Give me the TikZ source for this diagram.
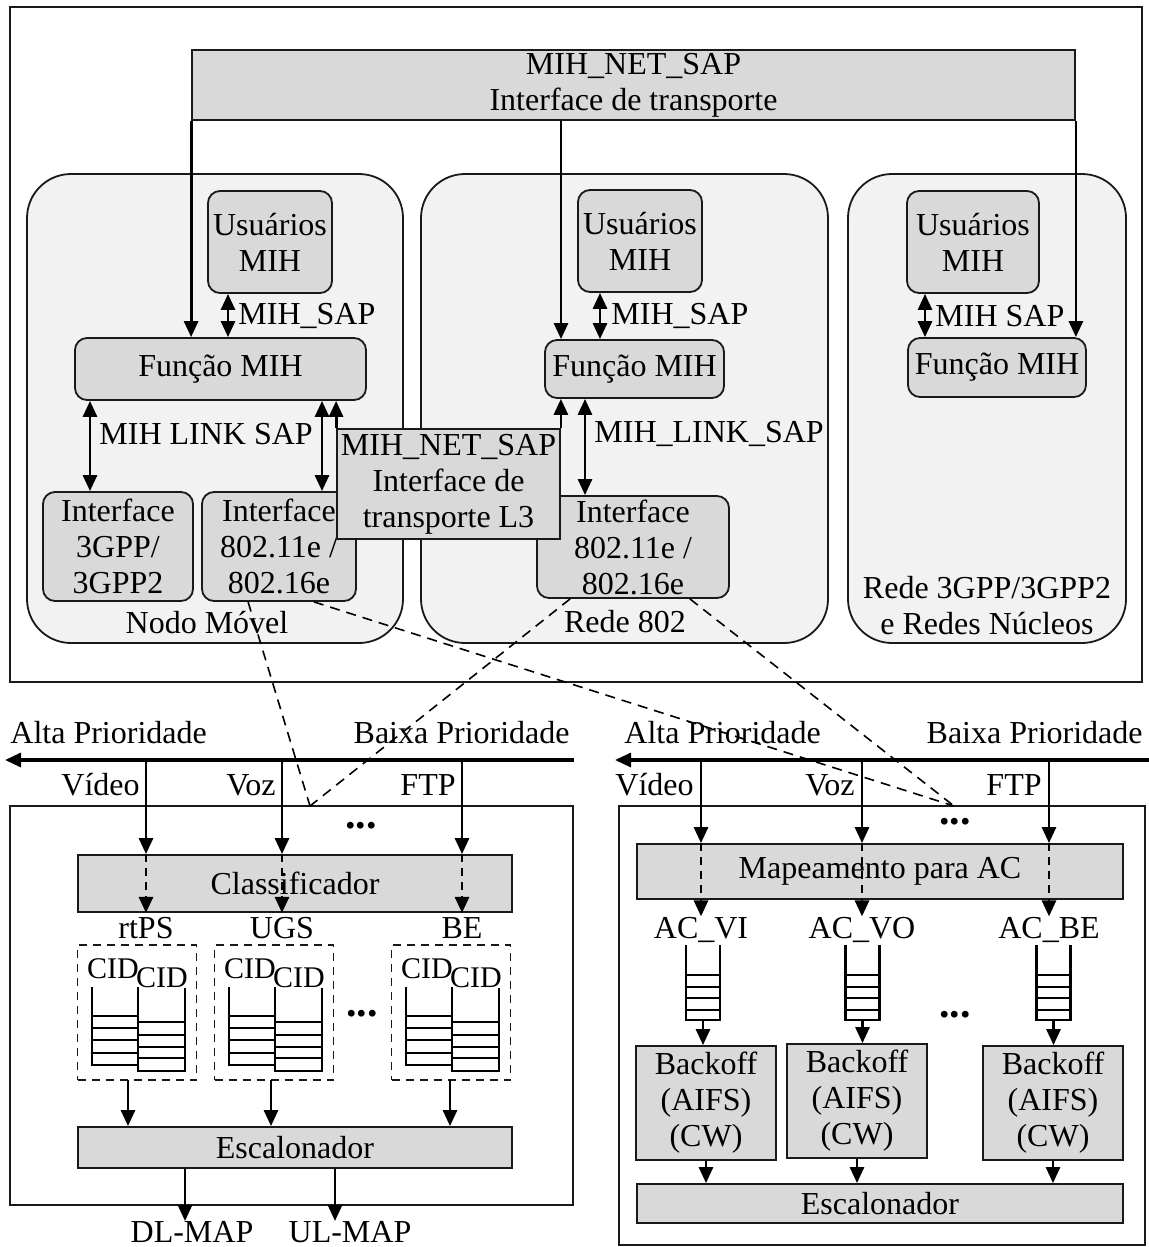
\documentclass[tikz,border=0pt]{standalone}
\usepackage{fontspec}
\setmainfont{Liberation Serif}
\usetikzlibrary{arrows.meta}
\def\boxedge{0.9pt}
\def\arrowedge{1.4pt}
\definecolor{edgeblack}{rgb}{0.1,0.1,0.1}
\definecolor{boxgray}{rgb}{0.85,0.85,0.85}
\definecolor{zonegray}{rgb}{0.95,0.95,0.95}
\tikzset{
  zone/.style={draw=edgeblack, fill=zonegray, line width=\boxedge, rounded corners=22pt, inner sep=0pt},
  rbox/.style={draw=edgeblack, fill=boxgray, line width=\boxedge, rounded corners=6pt, align=center, inner sep=0pt},
  sbox/.style={draw=edgeblack, fill=boxgray, line width=\boxedge, align=center, inner sep=0pt},
  panel/.style={draw=edgeblack, line width=\boxedge, inner sep=0pt},
  flow/.style={line width=\arrowedge, ->},
  dflow/.style={line width=\arrowedge, <->},
  dashlink/.style={line width=0.8pt, dash pattern=on 5pt off 3.5pt},
  lbl/.style={inner sep=0pt},
  dots/.style={inner sep=0pt, font=\fontsize{21}{21}\selectfont\bfseries},
}

\begin{document}
\begin{tikzpicture}[x=0.5pt, y=-0.5pt, >={Triangle[length=8pt,width=7pt]},
    every node/.style={font=\fontsize{16}{18}\selectfont}]
\useasboundingbox (0,0) rectangle (1149,1247);

        \draw [line width=1.1pt, color=edgeblack] (10,7) rectangle (1142,682);

        \node [zone, minimum width=188pt, minimum height=234.5pt] (nodo) at (215,408.5) {};
        \node [zone, minimum width=203.5pt, minimum height=234.5pt] (rede) at (624.5,408.5) {};
        \node [zone, minimum width=139pt, minimum height=234.5pt] (core) at (987,408.5) {};
        \node [lbl, anchor=base] (nodolbl) at (207,633) {Nodo Móvel};
        \node [lbl, anchor=base] (redelbl) at (625,632) {Rede 802};
        \node [lbl, align=center] (corelbl) at (987,606) {Rede 3GPP/3GPP2\\e Redes Núcleos};

        \node [sbox, minimum width=441.5pt, minimum height=35pt] (net) at (633.5,85) {MIH\_NET\_SAP\\Interface de transporte};

        % nodo movel
        \node [rbox, minimum width=62pt, minimum height=51pt] (usrA) at (270,242) {Usuários\\MIH};
        \node [rbox, minimum width=145.5pt, minimum height=31pt] (funA) at (220.5,369) {Função MIH};
        \node [rbox, minimum width=75pt, minimum height=54.5pt] (gppA) at (118,546.5) {Interface\\3GPP/\\3GPP2};
        \node [rbox, minimum width=77pt, minimum height=54.5pt] (wifA) at (279,546.5) {Interface\\802.11e /\\802.16e};

        % rede 802
        \node [rbox, minimum width=62pt, minimum height=51pt] (usrB) at (640,241) {Usuários\\MIH};
        \node [rbox, minimum width=89.5pt, minimum height=29pt] (funB) at (634.5,369) {Função MIH};
        \node [rbox, minimum width=96pt, minimum height=51pt] (wifB) at (633,547) {Interface\\802.11e /\\802.16e};

        % rede 3gpp
        \node [rbox, minimum width=66pt, minimum height=51pt] (usrC) at (973,242) {Usuários\\MIH};
        \node [rbox, minimum width=89pt, minimum height=29.5pt] (funC) at (997,367.5) {Função MIH};

        \node [sbox, minimum width=111.5pt, minimum height=55pt] (ltr) at (448.5,484) {MIH\_NET\_SAP\\Interface de\\transporte L3};

        \coordinate (netmid) at (561,120);
        \draw [flow] (net.south west) -- (net.south west |- funA.north);
        \draw [flow] (netmid) -- (netmid |- funB.north);
        \draw [flow] (net.south east) -- (net.south east |- funC.north);

        \coordinate (sapA) at (228,0);
        \coordinate (lkA1) at (90,0);
        \coordinate (lkA2) at (322,0);
        \draw [dflow] (usrA.south -| sapA) -- (funA.north -| sapA);
        \node [lbl, anchor=west] (sapAl) at (238,316) {MIH\_SAP};
        \draw [dflow] (funA.south -| lkA1) -- (gppA.north -| lkA1);
        \draw [dflow] (funA.south -| lkA2) -- (wifA.north -| lkA2);
        \node [lbl, anchor=west] (lkAl) at (99,434) {MIH LINK SAP};
        \draw [flow] (ltr.north west) -- (ltr.north west |- funA.south);
        \draw [flow] (ltr.north east) -- (ltr.north east |- funB.south);

        \coordinate (sapB) at (600,0);
        \coordinate (lkB) at (585,0);
        \draw [dflow] (usrB.south -| sapB) -- (funB.north -| sapB);
        \node [lbl, anchor=west] (sapBl) at (611,316) {MIH\_SAP};
        \draw [dflow] (funB.south -| lkB) -- (wifB.north -| lkB);
        \node [lbl, anchor=west] (lkBl) at (594,434) {MIH\_LINK\_SAP};

        \coordinate (sapC) at (925,0);
        \draw [dflow] (usrC.south -| sapC) -- (funC.north -| sapC);
        \node [lbl, anchor=west] (sapCl) at (935,316) {MIH SAP};

        % 802.16 side
        \node [panel, minimum width=281.5pt, minimum height=199.5pt] (wimax) at (291.5,1005.5) {};
        \coordinate (hiL) at (5,760);
        \coordinate (loL) at (574,760);
        \draw [flow, line width=1.6pt] (loL) -- (hiL);
        \node [lbl, anchor=base west] (hiLl) at (10,743) {Alta Prioridade};
        \node [lbl, anchor=base east] (loLl) at (570,743) {Baixa Prioridade};

        \node [sbox, minimum width=217pt, minimum height=28.5pt] (cls) at (295,883.5) {Classificador};
        \node [sbox, minimum width=217pt, minimum height=20.5pt] (escL) at (295,1147.5) {Escalonador};
        \node [dots] (dotsL1) at (361,826) {...};
        \node [dots] (dotsL2) at (362,1014) {...};

        \foreach \x/\app/\svc/\nm in {146/Vídeo/rtPS/vid, 282/Voz/UGS/voz, 462/FTP/BE/ftp} {
            \coordinate (\nm-in) at (\x,760);
            \draw [flow] (\nm-in) -- (\nm-in |- cls.north);
            \draw [flow, dash pattern=on 4pt off 3pt] (\nm-in |- cls.north) -- (\nm-in |- cls.south);
            \node [lbl, anchor=base east] (\nm-app) at (\x-6,795) {\app};
            \node [lbl, anchor=base] (\nm-svc) at (\x,938) {\svc};
        }

        \foreach \bx/\nm/\ax in {78/grpA/128, 215/grpB/271, 392/grpC/450} {
            \node [panel, dash pattern=on 4pt off 3pt, minimum width=59.5pt, minimum height=67.5pt] (\nm) at (\bx+59,1012.5) {};
            \node [lbl, anchor=base, font=\fontsize{15}{16}\selectfont] (\nm-c1) at (\bx+35,978) {CID};
            \node [lbl, anchor=base, font=\fontsize{15}{16}\selectfont] (\nm-c2) at (\bx+84,987) {CID};
            \draw [line width=1.1pt] (\bx+14,987) -- (\bx+14,1065) -- (\bx+60,1065) -- (\bx+60,987);
            \foreach \y in {1016,1028,1040,1053} \draw [line width=1.1pt] (\bx+14,\y) -- (\bx+60,\y);
            \draw [line width=1.1pt] (\bx+60,988) -- (\bx+60,1071) -- (\bx+107,1071) -- (\bx+107,988);
            \foreach \y in {1022,1035,1047,1058} \draw [line width=1.1pt] (\bx+60,\y) -- (\bx+107,\y);
            \coordinate (\nm-o) at (\ax,1080);
            \draw [flow] (\nm-o) -- (\nm-o |- escL.north);
        }

        \node [lbl, anchor=north] (dlmap) at (192,1221) {DL-MAP};
        \node [lbl, anchor=north] (ulmap) at (350,1221) {UL-MAP};
        \coordinate (dlx) at (185,0);
        \coordinate (ulx) at (335,0);
        \draw [flow] (escL.south -| dlx) -- (dlmap.north -| dlx);
        \draw [flow] (escL.south -| ulx) -- (ulmap.north -| ulx);

        % 802.11e side
        \node [panel, minimum width=263pt, minimum height=219.5pt] (wlan) at (882,1025.5) {};
        \coordinate (hiR) at (615,760);
        \coordinate (loR) at (1149,760);
        \draw [flow, line width=1.6pt] (loR) -- (hiR);
        \node [lbl, anchor=base west] (hiRl) at (624,743) {Alta Prioridade};
        \node [lbl, anchor=base east] (loRl) at (1143,743) {Baixa Prioridade};

        \node [sbox, minimum width=243pt, minimum height=27.5pt] (map) at (880,871.5) {Mapeamento para AC};
        \node [sbox, minimum width=243pt, minimum height=19.5pt] (escR) at (880,1203.5) {Escalonador};
        \node [sbox, minimum width=70pt, minimum height=57pt] (bk-vi) at (706,1103) {Backoff\\(AIFS)\\(CW)};
        \node [sbox, minimum width=70pt, minimum height=57pt] (bk-vo) at (857,1101) {Backoff\\(AIFS)\\(CW)};
        \node [sbox, minimum width=70pt, minimum height=57pt] (bk-be) at (1053,1103) {Backoff\\(AIFS)\\(CW)};
        \node [dots] (dotsR1) at (955,822) {...};
        \node [dots] (dotsR2) at (955,1015) {...};

        \foreach \x/\app/\ac/\nm in {701/Vídeo/AC\_VI/vi, 862/Voz/AC\_VO/vo, 1049/FTP/AC\_BE/be} {
            \coordinate (\nm-in) at (\x,760);
            \node [lbl, anchor=base east] (\nm-app) at (\x-7,795) {\app};
            \node [lbl, anchor=base] (\nm-ac) at (\x,938) {\ac};
            \draw [flow] (\nm-in) -- (\nm-in |- map.north);
            \draw [flow, dash pattern=on 4pt off 3pt] (\nm-in |- map.north) -- (\nm-in |- \nm-ac.north);
        }

        \foreach \qx/\nm in {703/vi, 862.5/vo, 1053.5/be} {
            \draw [line width=1.1pt] (\qx-17,945) -- (\qx-17,1020) -- (\qx+17,1020) -- (\qx+17,945);
            \foreach \y in {975,987,998,1010} \draw [line width=1.1pt] (\qx-17,\y) -- (\qx+17,\y);
            \coordinate (\nm-q) at (\qx,1020);
            \draw [flow] (\nm-q) -- (\nm-q |- bk-\nm.north);
            \draw [flow] (bk-\nm.south) -- (bk-\nm.south |- escR.north);
        }

        % links from the interfaces down to the schedulers
        \coordinate (jL) at (310,806);
        \coordinate (jR) at (954,806);
        \draw [dashlink] ([xshift=23.5pt]wifA.south west) -- (jL);
        \draw [dashlink] ([xshift=17pt]wifB.south west) -- (jL);
        \draw [dashlink] ([xshift=-21.5pt]wifA.south east) -- (jR);
        \draw [dashlink] ([xshift=-20pt]wifB.south east) -- (jR);

\end{tikzpicture}
\end{document}
